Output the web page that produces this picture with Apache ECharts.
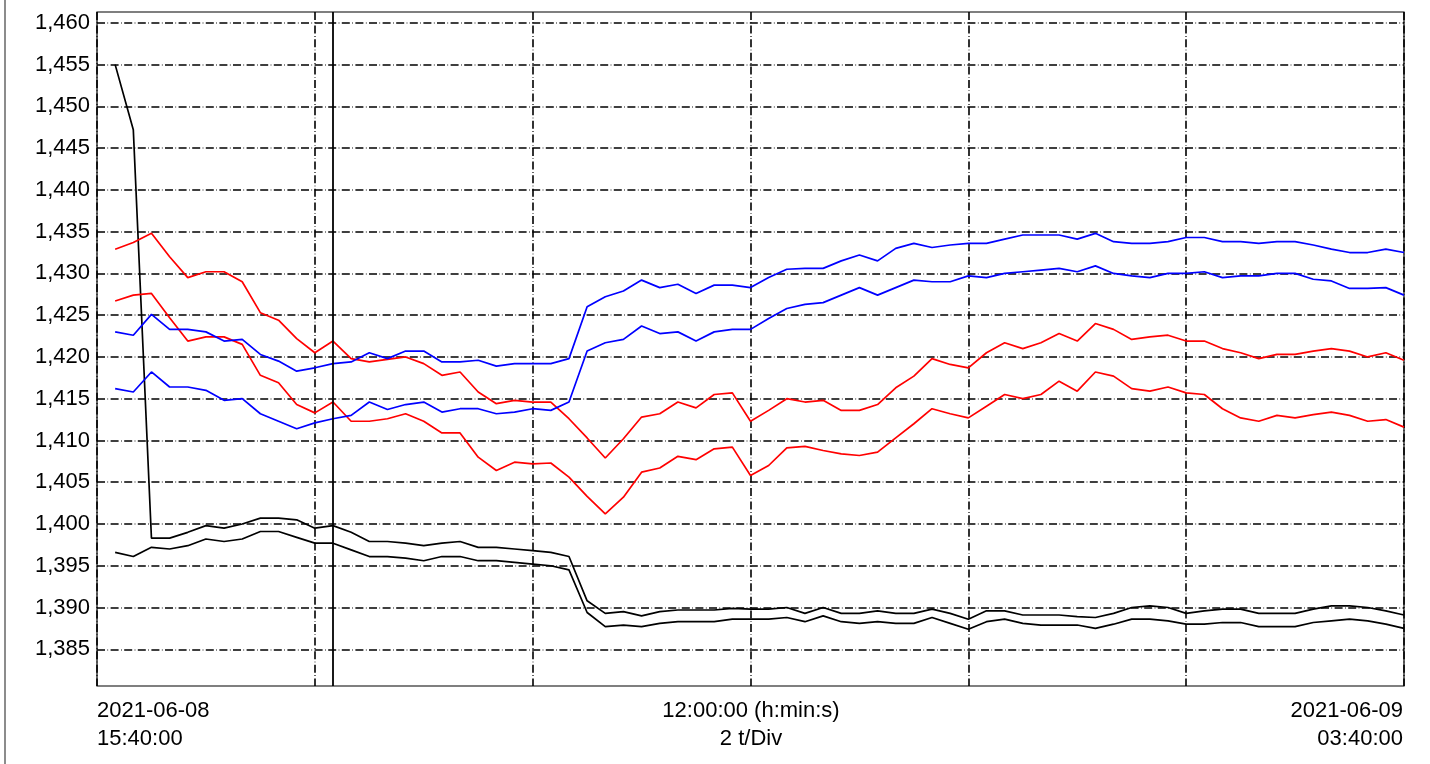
<!DOCTYPE html>
<html>
<head>
<meta charset="utf-8">
<script src="https://cdn.jsdelivr.net/npm/echarts@6/dist/echarts.min.js"></script>
<style>
	html, body { margin: 0; padding: 0; background: #fff; }
	#chart { width: 1430px; height: 764px; }
</style>
</head>
<body>
<div id="chart"></div>
<script>
// minutes after 2021-06-08 15:40:00, one sample every 10 min
const sampleMinutes = [
	10, 20, 30, 40, 50, 60, 70, 80, 90, 100, 110, 120,
	130, 140, 150, 160, 170, 180, 190, 200, 210, 220, 230, 240,
	250, 260, 270, 280, 290, 300, 310, 320, 330, 340, 350, 360,
	370, 380, 390, 400, 410, 420, 430, 440, 450, 460, 470, 480,
	490, 500, 510, 520, 530, 540, 550, 560, 570, 580, 590, 600,
	610, 620, 630, 640, 650, 660, 670, 680, 690, 700, 710, 720,
]

const redUpper = [
	1432.9, 1433.7, 1434.8, 1432.0, 1429.5, 1430.2, 1430.2, 1429.0, 1425.3, 1424.4, 1422.2, 1420.5,
	1421.9, 1419.8, 1419.4, 1419.7, 1420.0, 1419.2, 1417.8, 1418.2, 1415.8, 1414.4, 1414.8, 1414.6,
	1414.6, 1412.6, 1410.3, 1407.9, 1410.2, 1412.8, 1413.2, 1414.6, 1413.9, 1415.5, 1415.7, 1412.3,
	1413.6, 1415.0, 1414.6, 1414.8, 1413.6, 1413.6, 1414.3, 1416.3, 1417.7, 1419.8, 1419.1, 1418.7,
	1420.5, 1421.7, 1421.0, 1421.7, 1422.8, 1421.9, 1424.0, 1423.3, 1422.1, 1422.4, 1422.6, 1421.9,
	1421.9, 1421.0, 1420.5, 1419.8, 1420.3, 1420.3, 1420.7, 1421.0, 1420.7, 1420.0, 1420.5, 1419.6,
]
const redLower = [
	1426.7, 1427.4, 1427.6, 1424.7, 1421.9, 1422.4, 1422.4, 1421.5, 1417.8, 1416.9, 1414.3, 1413.3,
	1414.6, 1412.3, 1412.3, 1412.6, 1413.2, 1412.3, 1410.9, 1410.9, 1408.0, 1406.4, 1407.4, 1407.2,
	1407.3, 1405.6, 1403.3, 1401.2, 1403.2, 1406.2, 1406.7, 1408.1, 1407.7, 1409.0, 1409.2, 1405.8,
	1407.0, 1409.1, 1409.3, 1408.8, 1408.4, 1408.2, 1408.6, 1410.3, 1412.0, 1413.8, 1413.2, 1412.7,
	1414.1, 1415.5, 1415.0, 1415.5, 1417.1, 1415.9, 1418.2, 1417.7, 1416.2, 1415.9, 1416.4, 1415.7,
	1415.5, 1413.8, 1412.7, 1412.3, 1413.0, 1412.7, 1413.1, 1413.4, 1413.0, 1412.3, 1412.5, 1411.6,
]
const blueUpper = [
	1423.0, 1422.6, 1425.1, 1423.3, 1423.3, 1423.0, 1421.9, 1422.1, 1420.3, 1419.5, 1418.3, 1418.7,
	1419.2, 1419.4, 1420.5, 1419.8, 1420.7, 1420.7, 1419.4, 1419.4, 1419.6, 1418.9, 1419.2, 1419.2,
	1419.2, 1419.8, 1426.0, 1427.2, 1427.9, 1429.2, 1428.3, 1428.7, 1427.6, 1428.6, 1428.6, 1428.3,
	1429.5, 1430.5, 1430.6, 1430.6, 1431.5, 1432.2, 1431.5, 1433.0, 1433.6, 1433.1, 1433.4, 1433.6,
	1433.6, 1434.1, 1434.6, 1434.6, 1434.6, 1434.1, 1434.8, 1433.8, 1433.6, 1433.6, 1433.8, 1434.3,
	1434.3, 1433.8, 1433.8, 1433.6, 1433.8, 1433.8, 1433.4, 1432.9, 1432.5, 1432.5, 1432.9, 1432.5,
]
const blueLower = [
	1416.2, 1415.8, 1418.2, 1416.4, 1416.4, 1416.0, 1414.8, 1415.0, 1413.2, 1412.3, 1411.4, 1412.1,
	1412.6, 1413.0, 1414.6, 1413.7, 1414.3, 1414.6, 1413.4, 1413.8, 1413.8, 1413.2, 1413.4, 1413.8,
	1413.6, 1414.6, 1420.7, 1421.7, 1422.1, 1423.7, 1422.8, 1423.0, 1421.9, 1423.0, 1423.3, 1423.3,
	1424.6, 1425.8, 1426.3, 1426.5, 1427.4, 1428.3, 1427.4, 1428.3, 1429.2, 1429.0, 1429.0, 1429.7,
	1429.5, 1430.0, 1430.2, 1430.4, 1430.6, 1430.2, 1430.9, 1430.0, 1429.7, 1429.5, 1430.0, 1430.0,
	1430.2, 1429.5, 1429.7, 1429.7, 1430.0, 1430.0, 1429.3, 1429.1, 1428.2, 1428.2, 1428.3, 1427.4,
]
const blackUpper = [
	1455.0, 1447.2, 1398.3, 1398.3, 1399.0, 1399.8, 1399.5, 1400.0, 1400.7, 1400.7, 1400.5, 1399.5,
	1399.8, 1399.0, 1397.9, 1397.9, 1397.7, 1397.4, 1397.7, 1397.9, 1397.2, 1397.2, 1397.0, 1396.8,
	1396.6, 1396.1, 1390.8, 1389.3, 1389.5, 1389.0, 1389.5, 1389.7, 1389.7, 1389.7, 1389.9, 1389.8,
	1389.8, 1390.0, 1389.3, 1390.0, 1389.3, 1389.3, 1389.6, 1389.3, 1389.3, 1389.8, 1389.3, 1388.6,
	1389.6, 1389.6, 1389.1, 1389.1, 1389.1, 1388.9, 1388.8, 1389.3, 1390.0, 1390.2, 1390.0, 1389.3,
	1389.6, 1389.8, 1389.8, 1389.3, 1389.3, 1389.3, 1389.8, 1390.2, 1390.2, 1390.0, 1389.6, 1389.1,
]
const blackLower = [
	1396.6, 1396.1, 1397.2, 1397.0, 1397.4, 1398.2, 1397.9, 1398.2, 1399.1, 1399.1, 1398.4, 1397.7,
	1397.7, 1396.9, 1396.1, 1396.1, 1395.9, 1395.6, 1396.1, 1396.1, 1395.6, 1395.6, 1395.4, 1395.2,
	1395.0, 1394.5, 1389.4, 1387.7, 1387.9, 1387.7, 1388.1, 1388.3, 1388.3, 1388.3, 1388.6, 1388.6,
	1388.6, 1388.8, 1388.3, 1389.0, 1388.3, 1388.1, 1388.3, 1388.1, 1388.1, 1388.8, 1388.1, 1387.4,
	1388.3, 1388.6, 1388.1, 1387.9, 1387.9, 1387.9, 1387.5, 1388.0, 1388.6, 1388.6, 1388.4, 1388.0,
	1388.0, 1388.2, 1388.2, 1387.7, 1387.7, 1387.7, 1388.2, 1388.4, 1388.6, 1388.4, 1388.0, 1387.5,
]

const yTicks = [1385, 1390, 1395, 1400, 1405, 1410, 1415, 1420, 1425, 1430, 1435, 1440, 1445, 1450, 1455, 1460]
const cursorMinute = 130
const xLabelLeft = '2021-06-08\n15:40:00'
const xLabelMid = '12:00:00 (h:min:s)\n2 t/Div'
const xLabelRight = '2021-06-09\n03:40:00'

const FONT = 'Liberation Sans, Arial, sans-serif'
const gridDash = [8, 2.5, 0.6, 2.5]

const toPairs = (vals) => vals.map((v, i) => [sampleMinutes[i], v])

const makeLine = (name, vals, color) => ({
	name: name,
	type: 'line',
	data: toPairs(vals),
	showSymbol: false,
	symbol: 'none',
	lineStyle: { color: color, width: 1.7 },
	itemStyle: { color: color },
	z: 3,
})

const chart = echarts.init(document.getElementById('chart'))

const option = {
	animation: false,
	backgroundColor: '#fff',
	grid: {
		left: 97,
		right: 26,
		top: 12,
		bottom: 78,
		show: true,
		borderColor: '#000',
		borderWidth: 1.2,
		backgroundColor: 'transparent',
	},
	xAxis: {
		type: 'value',
		min: 0,
		max: 720,
		interval: 120,
		axisLine: { show: false },
		axisTick: { show: false },
		axisLabel: { show: false },
		splitLine: {
			show: true,
			lineStyle: { color: '#000', width: 1.6, type: gridDash },
		},
	},
	yAxis: {
		type: 'value',
		min: 1380.6,
		max: 1461.3,
		axisLine: { show: false },
		axisTick: { show: false, customValues: yTicks },
		axisLabel: {
			customValues: yTicks,
			margin: 7,
			color: '#000',
			fontFamily: FONT,
			fontSize: 22,
			formatter: (v) => Math.round(v).toLocaleString('en-US'),
		},
		splitLine: {
			show: true,
			lineStyle: { color: '#000', width: 1.6, type: gridDash },
		},
	},
	series: [
		makeLine('black upper', blackUpper, '#000000'),
		makeLine('black lower', blackLower, '#000000'),
		makeLine('red upper', redUpper, '#ff0000'),
		makeLine('red lower', redLower, '#ff0000'),
		makeLine('blue upper', blueUpper, '#0000ff'),
		makeLine('blue lower', blueLower, '#0000ff'),
		{
			type: 'line',
			data: [],
			markLine: {
				silent: true,
				symbol: ['none', 'none'],
				label: { show: false },
				lineStyle: { color: '#000', width: 1.8, type: 'solid' },
				data: [{ xAxis: cursorMinute }],
			},
		},
	],
	graphic: [
		{
			type: 'line',
			shape: { x1: 5, y1: 0, x2: 5, y2: 764 },
			style: { stroke: '#8c8c8c', lineWidth: 2 },
		},
		{
			type: 'text',
			x: 97,
			y: 697,
			style: { text: xLabelLeft, font: '22px ' + FONT, fill: '#000', textAlign: 'left', textVerticalAlign: 'top', lineHeight: 28 },
		},
		{
			type: 'text',
			x: 751,
			y: 697,
			style: { text: xLabelMid, font: '22px ' + FONT, fill: '#000', textAlign: 'center', textVerticalAlign: 'top', lineHeight: 28 },
		},
		{
			type: 'text',
			x: 1403,
			y: 697,
			style: { text: xLabelRight, font: '22px ' + FONT, fill: '#000', textAlign: 'right', textVerticalAlign: 'top', lineHeight: 28 },
		},
	],
}

chart.setOption(option)
</script>
</body>
</html>
